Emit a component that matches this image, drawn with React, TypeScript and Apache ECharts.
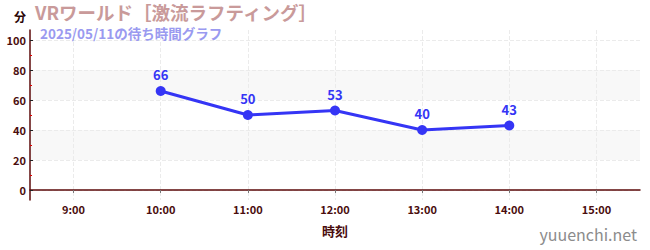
import React, { useEffect, useRef } from "react";
import * as echarts from "echarts";

const categories = ["9:00", "10:00", "11:00", "12:00", "13:00", "14:00", "15:00"];
const waitTimes: (number | null)[] = [null, 66, 50, 53, 40, 43, null];
const titleText = "VRワールド［激流ラフティング］";
const subtitleText = "2025/05/11の待ち時間グラフ";
const yUnit = "分";
const xName = "時刻";
const watermark = "yuuenchi.net";

const FONT = '"Noto Sans CJK JP", "Noto Sans", sans-serif';
const AXIS = "#5c0a0a";
const LABEL = "#4a0d0d";

// half-slot axis so that the grid lines sit on the category centres
const slots: string[] = [""];
categories.forEach((c) => {
  slots.push(c);
  slots.push("");
});
const onCategory = (i: number) => i % 2 === 1;

export default function App() {
  const ref = useRef<HTMLDivElement>(null);
  useEffect(() => {
    if (!ref.current) return;
    const chart = echarts.init(ref.current, undefined, { renderer: "svg" });
    chart.setOption({
      animation: false,
      textStyle: { fontFamily: FONT },
      title: [
        {
          text: titleText,
          left: 30,
          top: -2,
          textStyle: {
            color: "#c99a9a",
            fontSize: 18.5,
            lineHeight: 18,
            fontWeight: "bold",
            fontFamily: FONT,
          },
        },
        {
          text: subtitleText,
          left: 35,
          top: 21,
          textStyle: {
            color: "#9a9af0",
            fontSize: 13.5,
            lineHeight: 13,
            fontWeight: "bold",
            fontFamily: FONT,
          },
        },
      ],
      graphic: [
        {
          type: "text",
          left: 14,
          top: 10,
          style: { text: yUnit, fill: "#2a0505", font: `bold 12px ${FONT}` },
        },
        {
          type: "text",
          right: 13,
          bottom: 8,
          style: { text: watermark, fill: "#8c8c8c", font: `16px ${FONT}` },
        },
      ],
      grid: [
        { left: 30, right: 10, top: 30, bottom: 50 },
        { left: 30, right: 10, top: 40, bottom: 60 },
      ],
      xAxis: [
        {
          gridIndex: 0,
          type: "category",
          data: slots,
          boundaryGap: false,
          name: xName,
          nameLocation: "middle",
          nameGap: 24,
          nameTextStyle: { color: LABEL, fontSize: 13, fontWeight: "bold", fontFamily: FONT },
          axisLine: { show: true, lineStyle: { color: AXIS, width: 1.5 } },
          axisTick: { show: true, interval: onCategory, length: 3, lineStyle: { color: "#777" } },
          axisLabel: {
            color: LABEL,
            fontSize: 11,
            fontWeight: "bold",
            margin: 3,
            interval: onCategory,
            fontFamily: FONT,
          },
          splitLine: { show: true, interval: onCategory, lineStyle: { color: "#ebebeb", type: "dashed" } },
        },
        {
          gridIndex: 1,
          type: "category",
          data: categories,
          boundaryGap: true,
          show: false,
        },
      ],
      yAxis: [
        {
          gridIndex: 0,
          type: "value",
          min: -6.67,
          max: 106.67,
          axisLine: { show: true, lineStyle: { color: AXIS, width: 1.5 } },
          axisTick: { show: false },
          axisLabel: { show: false },
          splitLine: { show: false },
        },
        {
          gridIndex: 1,
          type: "value",
          min: 0,
          max: 100,
          interval: 20,
          axisLine: { show: false },
          axisTick: { show: true, inside: true, length: 3, lineStyle: { color: "#222" } },
          minorTick: { show: true, splitNumber: 2, length: 2, lineStyle: { color: "#e00000" } },
          axisLabel: { color: LABEL, fontSize: 11, fontWeight: "bold", margin: 4, fontFamily: FONT },
          splitLine: { show: true, lineStyle: { color: "#ebebeb", type: "dashed" } },
          splitArea: { show: true, areaStyle: { color: ["rgba(255,255,255,0)", "#f8f8f8"] } },
        },
      ],
      series: [
        {
          type: "line",
          xAxisIndex: 1,
          yAxisIndex: 1,
          data: waitTimes,
          connectNulls: false,
          symbol: "circle",
          symbolSize: 10,
          itemStyle: { color: "#3535f5" },
          lineStyle: { color: "#3535f5", width: 3 },
          label: {
            show: true,
            position: "top",
            distance: 5,
            color: "#3535f5",
            fontSize: 13,
            fontWeight: "bold",
            fontFamily: FONT,
          },
        },
      ],
    });
    return () => chart.dispose();
  }, []);
  return (
    <div
      ref={ref}
      style={{ position: "fixed", left: 0, top: 0, width: 650, height: 250, background: "#fff" }}
    />
  );
}
